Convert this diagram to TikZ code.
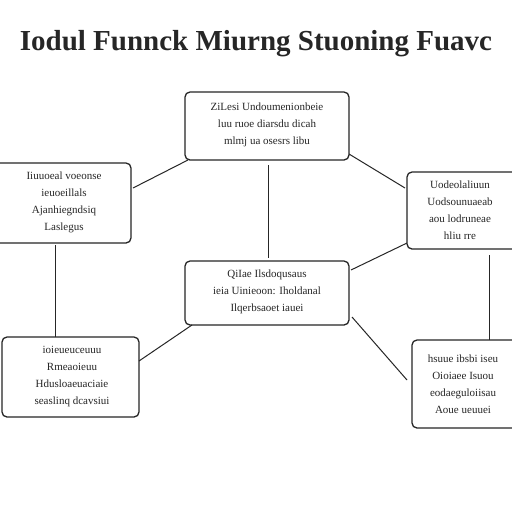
\documentclass[tikz,border=0pt]{standalone}
\usepackage{fontspec}
\setmainfont{Liberation Serif}
\begin{document}
\begin{tikzpicture}[x=1pt,y=-1pt,
  box/.style={draw=black!85, line width=1.3pt, rounded corners=5pt, fill=white},
  txt/.style={font=\fontsize{11}{17}\selectfont, align=center, text=black!85},
  link/.style={draw=black!85, line width=1pt}]
\useasboundingbox (0,0) rectangle (512,512);
\fill[white] (0,0) rectangle (512,512);
\begin{scope}
\clip (0,0) rectangle (512,512);
\node[font=\fontsize{29}{34}\selectfont\bfseries, text=black!85, inner sep=0pt] (title) at (256,44) {Iodul Funnck Miurng Stuoning Fuavc};
% boxes
\draw[box] (185,92) rectangle (349,160);
\node[txt] (t) at (267,125) {ZiLesi Undoumenionbeie\\ luu ruoe diarsdu dicah\\ mlmj ua osesrs libu};
\draw[box] (-6,163) rectangle (131,243);
\node[txt] (l) at (64,202) {Iiuuoeal voeonse\\ ieuoeillals\\ Ajanhiegndsiq\\ Laslegus};
\draw[box] (407,172) rectangle (520,249);
\node[txt] (r) at (460,210) {Uodeolaliuun\\ Uodsounuaeab\\ aou lodruneae\\ hliu rre};
\draw[box] (185,261) rectangle (349,325);
\node[txt] (c) at (267,292) {QiIae Ilsdoqusaus\\ ieia Uinieoon: Iholdanal\\ Ilqerbsaoet iauei};
\draw[box] (2,337) rectangle (139,417);
\node[txt] (bl) at (72,377) {ioieueuceuuu\\ Rmeaoieuu\\ Hdusloaeuaciaie\\ seaslinq dcavsiui};
\draw[box] (412,340) rectangle (520,428);
\node[txt] (br) at (463,384) {hsuue ibsbi iseu\\ Oioiaee Isuou\\ eodaeguloiisau\\ Aoue ueuuei};
\end{scope}
% connectors
\coordinate (tB) at (268,165);
\coordinate (cT) at (268,258);
\draw[link] (tB) -- (cT);
\coordinate (lR) at (133,188);
\coordinate (tL) at (188,160);
\draw[link] (lR) -- (tL);
\coordinate (tR) at (349,154);
\coordinate (rL) at (405,188);
\draw[link] (tR) -- (rL);
\coordinate (lB) at (55,245);
\coordinate (blT) at (55,337);
\draw[link] (lB) -- (blT);
\coordinate (rB) at (489,255);
\coordinate (brT) at (489,340);
\draw[link] (rB) -- (brT);
\coordinate (blR) at (139,361);
\coordinate (cBL) at (192,325);
\draw[link] (blR) -- (cBL);
\coordinate (cRT) at (351,270);
\coordinate (rBL) at (407,243);
\draw[link] (cRT) -- (rBL);
\coordinate (cRB) at (352,317);
\coordinate (brL) at (407,380);
\draw[link] (cRB) -- (brL);
\end{tikzpicture}
\end{document}
